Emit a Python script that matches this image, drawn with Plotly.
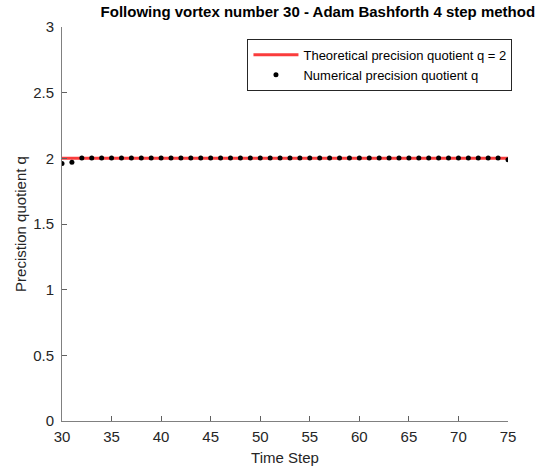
import plotly.graph_objects as go

time_steps = list(range(30, 76))
numerical_q = [1.96, 1.97] + [2.003] * 43 + [1.99]
theoretical_x = [30, 75]
theoretical_q = [2, 2]

x_ticks = [30, 35, 40, 45, 50, 55, 60, 65, 70, 75]
y_ticks = [0, 0.5, 1, 1.5, 2, 2.5, 3]
y_tick_labels = ["0", "0.5", "1", "1.5", "2", "2.5", "3"]

FONT = "Liberation Sans, Arial"

fig = go.Figure()
fig.add_trace(go.Scatter(
    x=theoretical_x, y=theoretical_q, mode="lines",
    line=dict(color="rgb(250,60,60)", width=3),
    name="Theoretical precision quotient q = 2"))
fig.add_trace(go.Scatter(
    x=time_steps, y=numerical_q, mode="markers",
    marker=dict(color="black", size=5),
    name="Numerical precision quotient q"))

axis_common = dict(
    showline=True, linecolor="#808080", linewidth=1,
    ticks="inside", ticklen=5, tickcolor="#606060",
    showgrid=False, zeroline=False, automargin=False,
    tickfont=dict(family=FONT, size=15, color="#262626"),
)

fig.update_layout(
    width=548, height=472,
    margin=dict(l=62, r=40, t=27, b=51),
    paper_bgcolor="white", plot_bgcolor="white",
    title=dict(text="<b>Following vortex number 30 - Adam Bashforth 4 step method</b>",
               x=0.58, xanchor="center", y=0.975, yanchor="middle",
               font=dict(family=FONT, size=15, color="black"),
               automargin=False),
    xaxis=dict(range=[30, 75], tickvals=x_ticks, ticklabelstandoff=2,
               title=dict(text="Time Step", standoff=8,
                          font=dict(family=FONT, size=15, color="#262626")),
               **axis_common),
    yaxis=dict(range=[0, 3], tickvals=y_ticks, ticktext=y_tick_labels,
               ticklabelstandoff=4,
               title=dict(text="Precistion quotient q", standoff=2,
                          font=dict(family=FONT, size=15, color="#262626")),
               **axis_common),
    legend=dict(x=1.01, xanchor="right", y=0.97, yanchor="top",
                bordercolor="#262626", borderwidth=1, bgcolor="white",
                font=dict(family=FONT, size=13, color="black"),
                itemwidth=45, tracegroupgap=0),
    showlegend=True,
)

fig.write_html("out.html")
